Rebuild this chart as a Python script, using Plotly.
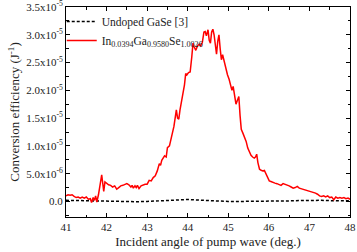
import plotly.graph_objects as go

# Incident angle (deg.) and conversion efficiency (units of 1e-6 J^-1)
doped_angle = [41.00, 41.05, 41.10, 41.15, 41.20, 41.25, 41.30, 41.35, 41.40, 41.45,
               41.50, 41.55, 41.60, 41.63, 41.67, 41.70, 41.73, 41.76, 41.80, 41.84,
               41.88, 41.91, 41.93, 41.96, 42.00, 42.05, 42.10, 42.15, 42.20, 42.25,
               42.30, 42.35, 42.40, 42.45, 42.50, 42.55, 42.60, 42.63, 42.66, 42.70,
               42.73, 42.76, 42.80, 42.85, 42.90, 42.95, 43.00, 43.05, 43.10, 43.15,
               43.20, 43.25, 43.30, 43.33, 43.36, 43.40, 43.43, 43.47, 43.50, 43.55,
               43.60, 43.63, 43.66, 43.70, 43.72, 43.75, 43.78, 43.81, 43.84, 43.88,
               43.92, 43.95, 43.98, 44.02, 44.06, 44.10, 44.13, 44.16, 44.20, 44.24,
               44.28, 44.32, 44.36, 44.40, 44.43, 44.46, 44.50, 44.53, 44.56, 44.59,
               44.62, 44.65, 44.68, 44.71, 44.74, 44.77, 44.80, 44.83, 44.86, 44.90,
               44.94, 44.98, 45.02, 45.06, 45.09, 45.12, 45.16, 45.19, 45.23, 45.26,
               45.29, 45.32, 45.36, 45.40, 45.44, 45.48, 45.52, 45.56, 45.60, 45.64,
               45.67, 45.70, 45.73, 45.77, 45.81, 45.85, 45.89, 45.93, 45.97, 46.01,
               46.05, 46.10, 46.15, 46.20, 46.25, 46.30, 46.35, 46.40, 46.45, 46.50,
               46.55, 46.60, 46.65, 46.70, 46.75, 46.80, 46.85, 46.90, 46.95, 47.00,
               47.05, 47.10, 47.15, 47.20, 47.25, 47.30, 47.35, 47.40, 47.45, 47.50,
               47.55, 47.60, 47.65, 47.70, 47.75, 47.80, 47.85, 47.90, 47.95, 48.00]
doped_eff_e6 = [1.0, 1.2, 1.1, 1.2, 0.9, 0.7, 0.8, 0.6, 0.8, 0.6,
                0.8, 0.4, 0.5, -0.2, 0.7, 0.2, 1.0, -0.1, 1.2, 3.0,
                4.8, 3.0, 1.8, 3.5, 3.2, 3.0, 2.9, 2.6, 2.8, 2.2,
                2.5, 2.8, 2.9, 3.1, 3.2, 3.0, 2.6, 2.9, 2.4, 2.8,
                2.5, 2.9, 2.3, 2.8, 3.0, 3.1, 3.1, 3.8, 3.7, 4.3,
                4.6, 5.5, 6.8, 6.5, 7.4, 7.8, 8.2, 8.0, 9.7, 10.0,
                11.6, 12.0, 13.5, 15.5, 16.5, 15.0, 14.8, 16.5, 17.7, 19.5,
                21.0, 23.0, 22.8, 23.2, 23.3, 26.0, 28.5, 27.8, 27.2, 28.0,
                28.3, 28.0, 28.6, 30.5, 30.6, 29.8, 30.9, 29.0, 28.5, 30.5,
                31.0, 30.0, 28.5, 26.5, 28.8, 30.0, 27.5, 25.5, 26.4, 25.0,
                23.6, 22.8, 22.0, 20.5, 20.0, 20.7, 18.4, 17.5, 18.3, 18.9,
                15.5, 13.0, 12.3, 11.5, 10.8, 9.6, 8.8, 8.3, 8.0, 7.8,
                8.0, 8.5, 7.0, 5.8, 5.6, 5.5, 5.6, 5.0, 4.2, 3.7,
                3.6, 3.4, 3.3, 3.2, 3.0, 2.9, 3.2, 3.1, 2.9, 2.8,
                2.6, 2.4, 2.5, 2.7, 2.4, 2.3, 2.2, 2.0, 1.9, 1.8,
                1.8, 1.6, 1.5, 1.3, 1.0, 0.9, 1.0, 0.8, 1.0, 0.7,
                0.8, 0.3, 0.8, 0.6, 0.7, 0.6, 0.7, 0.5, 0.6, 0.4]

undoped_angle = [41.0, 41.25, 41.5, 41.75, 42.0, 42.25, 42.5, 42.75, 43.0, 43.25,
                 43.5, 43.75, 44.0, 44.25, 44.5, 44.75, 45.0, 45.25, 45.5, 45.75,
                 46.0, 46.25, 46.5, 46.75, 47.0, 47.25, 47.5, 47.75, 48.0]
undoped_eff_e6 = [0.2, 0.15, 0.1, 0.05, 0.0, -0.05, -0.05, -0.05, 0.0, 0.1,
                  0.2, 0.3, 0.35, 0.25, 0.15, 0.05, 0.0, 0.0, 0.0, 0.0,
                  0.05, 0.05, 0.1, 0.15, 0.2, 0.2, 0.15, 0.15, 0.1]

y_tick_vals = [0, 5e-6, 1e-5, 1.5e-5, 2e-5, 2.5e-5, 3e-5, 3.5e-5]
y_tick_text = ["0.0", "5.0x10<sup>-6</sup>", "1.0x10<sup>-5</sup>", "1.5x10<sup>-5</sup>",
               "2.0x10<sup>-5</sup>", "2.5x10<sup>-5</sup>", "3.0x10<sup>-5</sup>",
               "3.5x10<sup>-5</sup>"]
x_tick_vals = [41, 42, 43, 44, 45, 46, 47, 48]

legend_undoped = "Undoped GaSe [3]"
legend_doped = "In<sub>0.0394</sub>Ga<sub>0.9580</sub>Se<sub>1.0026</sub>"

fig = go.Figure()
fig.add_trace(go.Scatter(
    x=undoped_angle, y=[v * 1e-6 for v in undoped_eff_e6], mode="lines",
    name=legend_undoped, line=dict(color="black", width=1.5, dash="3px,2px")))
fig.add_trace(go.Scatter(
    x=doped_angle, y=[v * 1e-6 for v in doped_eff_e6], mode="lines",
    name=legend_doped, line=dict(color="#ff0000", width=1.5)))

axis_common = dict(showline=True, linecolor="black", linewidth=1, mirror="ticks",
                   ticks="inside", ticklen=4, tickcolor="black", showgrid=False,
                   zeroline=False, automargin=False, ticklabeloverflow="allow",
                   tickfont=dict(size=11, color="#222"))

fig.update_layout(
    width=357, height=252,
    margin=dict(l=66, r=7, t=7, b=35, autoexpand=False),
    paper_bgcolor="white", plot_bgcolor="white",
    font=dict(family="Liberation Serif, Times New Roman, serif", color="#222"),
    showlegend=True,
    legend=dict(x=-0.015, y=1.0, xanchor="left", yanchor="top",
                bgcolor="rgba(0,0,0,0)", font=dict(size=11.5),
                tracegroupgap=0, itemwidth=30),
    xaxis=dict(range=[41, 48], tickvals=x_tick_vals,
               minor=dict(ticks="inside", ticklen=2.5, dtick=0.5, tickcolor="black"),
               title=dict(text="Incident angle of pump wave (deg.)", font=dict(size=13),
                          standoff=4),
               **axis_common),
    yaxis=dict(range=[-2.8e-6, 3.5e-5], tickvals=y_tick_vals, ticktext=y_tick_text,
               minor=dict(ticks="inside", ticklen=2.5, dtick=2.5e-6, tickcolor="black"),
               title=dict(text="Conversion efficiency (J<sup>-1</sup>)", font=dict(size=13),
                          standoff=3),
               **axis_common),
)

fig.write_html("out.html", config={"displayModeBar": False},
               post_script="document.body.style.margin='0';document.body.style.overflow='hidden';")
